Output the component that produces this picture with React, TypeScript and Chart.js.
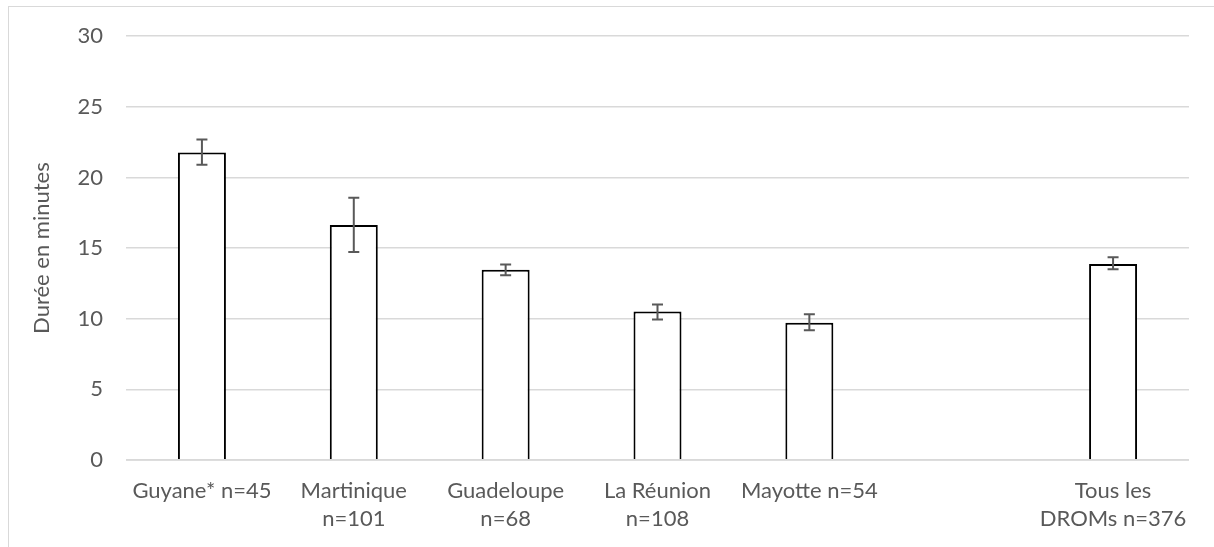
import React, { useEffect, useRef } from 'react';
import { Chart, registerables } from 'chart.js';

Chart.register(...registerables);

const categories: (string | string[])[] = [
  'Guyane* n=45',
  ['Martinique', 'n=101'],
  ['Guadeloupe', 'n=68'],
  ['La Réunion', 'n=108'],
  'Mayotte n=54',
  '',
  ['Tous les', 'DROMs n=376'],
];
const meanMinutes: (number | null)[] = [21.76, 16.64, 13.46, 10.52, 9.72, null, 13.88];
const errorLow: (number | null)[] = [20.9, 14.73, 13.08, 9.95, 9.18, null, 13.5];
const errorHigh: (number | null)[] = [22.68, 18.56, 13.84, 11.01, 10.31, null, 14.35];
const yTickValues: number[] = [0, 5, 10, 15, 20, 25, 30];
const yTitle = 'Durée en minutes';

const FONT = 'Lato, "Open Sans", sans-serif';
const TEXT = '#595959';
const GRID = '#d9d9d9';

const errorBarPlugin = {
  id: 'errorBars',
  afterDatasetsDraw(chart: any) {
    const ctx = chart.ctx as CanvasRenderingContext2D;
    const y = chart.scales.y;
    const area = chart.chartArea;
    ctx.save();
    // zero axis line drawn over bar bottoms
    const y0 = y.getPixelForValue(0);
    ctx.strokeStyle = GRID;
    ctx.lineWidth = 1.5;
    ctx.beginPath();
    ctx.moveTo(area.left, y0);
    ctx.lineTo(area.right, y0);
    ctx.stroke();
    const meta = chart.getDatasetMeta(0);
    meta.data.forEach((bar: any, i: number) => {
      const hi = errorHigh[i];
      const lo = errorLow[i];
      if (hi == null || lo == null) return;
      const x = bar.x;
      const yt = y.getPixelForValue(hi);
      const yb = y.getPixelForValue(lo);
      const cap = 5.5;
      ctx.strokeStyle = TEXT;
      ctx.lineWidth = 2;
      ctx.beginPath();
      ctx.moveTo(x, yt);
      ctx.lineTo(x, yb);
      ctx.moveTo(x - cap, yt);
      ctx.lineTo(x + cap, yt);
      ctx.moveTo(x - cap, yb);
      ctx.lineTo(x + cap, yb);
      ctx.stroke();
    });
    ctx.restore();
  },
};

export default function App() {
  const canvasRef = useRef<HTMLCanvasElement | null>(null);

  useEffect(() => {
    if (!canvasRef.current) return;
    const chart = new Chart(canvasRef.current, {
      type: 'bar',
      data: {
        labels: categories,
        datasets: [
          {
            data: meanMinutes,
            backgroundColor: '#ffffff',
            borderColor: '#000000',
            borderWidth: 2,
            borderSkipped: 'start',
            categoryPercentage: 1,
            barPercentage: 0.316,
          },
        ],
      },
      options: {
        animation: false,
        responsive: false,
        maintainAspectRatio: false,
        layout: { padding: { top: 35, right: 25, left: 0, bottom: 0 } },
        plugins: {
          legend: { display: false },
          tooltip: { enabled: false },
        },
        scales: {
          x: {
            grid: { display: false, drawTicks: false },
            border: { display: false },
            ticks: {
              color: TEXT,
              font: { family: FONT, size: 22, lineHeight: 1.27 },
              padding: 17,
              maxRotation: 0,
              minRotation: 0,
              autoSkip: false,
            },
            afterFit: (s: any) => {
              s.height = 87;
            },
          },
          y: {
            min: 0,
            max: 30,
            grid: { color: GRID, lineWidth: 1.5, drawTicks: false },
            border: { display: false },
            afterBuildTicks: (s: any) => {
              s.ticks = yTickValues.map((v) => ({ value: v }));
            },
            ticks: {
              color: TEXT,
              font: { family: FONT, size: 22 },
              padding: 23,
            },
            title: {
              display: true,
              text: yTitle,
              color: TEXT,
              font: { family: FONT, size: 22, lineHeight: 1.2 },
              padding: { top: 29, bottom: 0 },
            },
            afterFit: (s: any) => {
              s.width = 126;
            },
          },
        },
      },
      plugins: [errorBarPlugin],
    });
    return () => chart.destroy();
  }, []);

  return (
    <>
      <div
        style={{
          position: 'fixed',
          left: 8,
          top: 6,
          width: 1220,
          height: 560,
          border: `1px solid ${GRID}`,
          pointerEvents: 'none',
        }}
      />
      <canvas
        ref={canvasRef}
        width={1214}
        height={547}
        style={{ position: 'fixed', left: 0, top: 0, display: 'block' }}
      />
    </>
  );
}
